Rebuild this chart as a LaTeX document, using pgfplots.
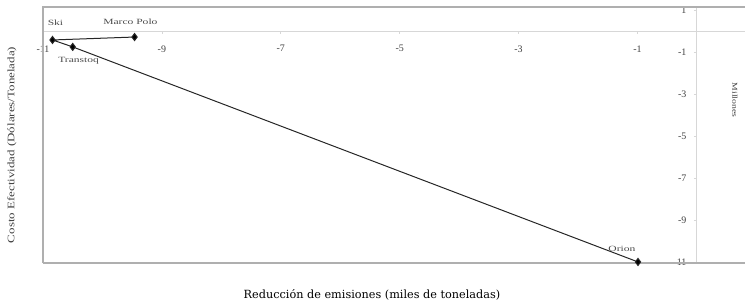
\documentclass[border=0pt]{standalone}
\usepackage{pgfplots}
\pgfplotsset{compat=1.18}
\usepackage{fontspec}
\setmainfont{Liberation Serif}
\newfontfamily\titlefont{DejaVu Serif}
\definecolor{frame}{RGB}{175,175,175}
\definecolor{zline}{RGB}{215,215,215}
\begin{document}
\begin{tikzpicture}[x=1bp,y=1bp]
\begin{axis}[
  at={(0,0)}, anchor=south west,
  scale only axis, width=702bp, height=256bp,
  xmin=-11, xmax=0.81, ymin=-11.05, ymax=1.14,
  axis lines=middle,
  axis line style={-, zline, line width=0.8bp},
  xtick={-11,-9,-7,-5,-3,-1},
  ytick={-11,-9,-7,-5,-3,-1,1},
  tick style={zline, line width=0.6bp},
  major tick length=3bp,
  tick align=outside,
  every tick label/.append style={font=\fontsize{10}{11}\selectfont, text=black!75},
  /pgf/number format/assume math mode=true,
  xticklabel style={yshift=-8bp},
  yticklabel style={xshift=-4bp},
  clip=false,
]
\draw[frame, line width=1.6bp] (rel axis cs:0,0) -- (rel axis cs:0,1) -- (rel axis cs:1,1);
\draw[frame, line width=1.2bp] (rel axis cs:0,0) -- (rel axis cs:1,0);
\addplot[black!85, line width=1bp, mark=diamond*, mark size=3.5bp, mark options={fill=black}]
  coordinates {(-9.46,-0.29) (-10.84,-0.43) (-10.5,-0.76) (-0.99,-11.0)};
\node[font=\fontsize{8}{9}\selectfont, text=black!70] at (axis cs:-10.79,0.38) {\scalebox{1.45}[1]{Ski}};
\node[font=\fontsize{8}{9}\selectfont, text=black!70] at (axis cs:-9.53,0.43) {\scalebox{1.45}[1]{Marco Polo}};
\node[font=\fontsize{8}{9}\selectfont, text=black!70] at (axis cs:-10.4,-1.43) {\scalebox{1.45}[1]{Transtoq}};
\node[font=\fontsize{8}{9}\selectfont, text=black!70] at (axis cs:-1.26,-10.38) {\scalebox{1.45}[1]{Orion}};
\end{axis}
\node[rotate=90, font=\fontsize{10}{11}\selectfont, text=black!75] at (-31,118) {\scalebox{1.3}[1]{Costo Efectividad (Dólares/Tonelada)}};
\node[rotate=-90, font=\fontsize{7.5}{8}\selectfont, text=black!75] at (692,163) {\scalebox{1.3}[1]{Millones}};
\node[font=\titlefont\fontsize{11.3}{13}\selectfont] at (329,-32) {Reducción de emisiones (miles de toneladas)};
\pgfresetboundingbox
\path (-43,-44) rectangle (702,263);
\end{tikzpicture}
\end{document}
